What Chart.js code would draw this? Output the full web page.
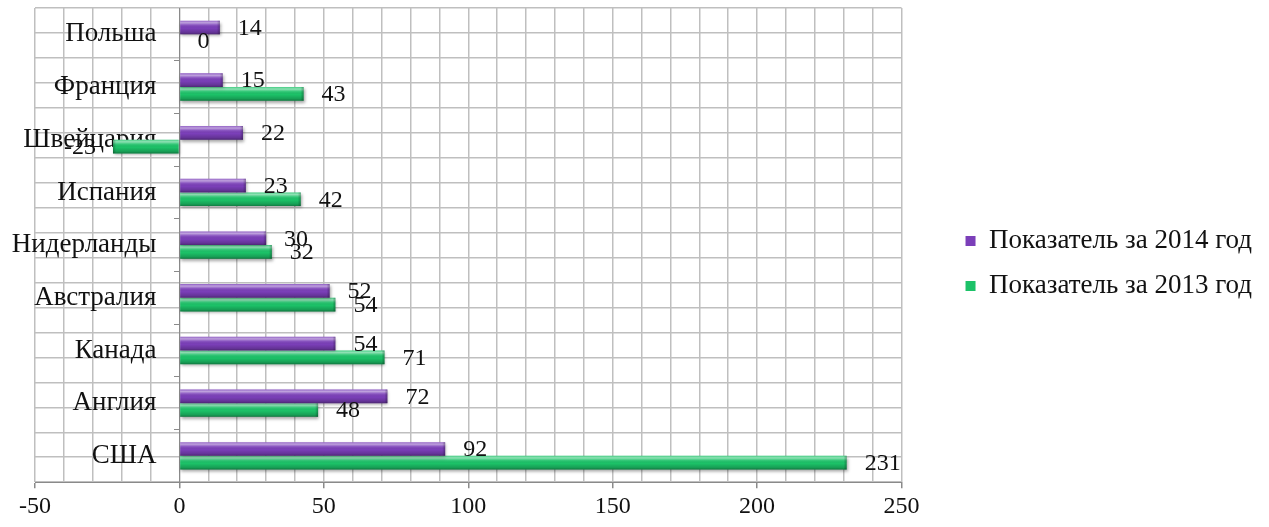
<!DOCTYPE html>
<html>
<head>
<meta charset="utf-8">
<script src="https://cdn.jsdelivr.net/npm/chart.js@4.4.1/dist/chart.umd.min.js"></script>
<style>
  html, body { margin: 0; padding: 0; background: #fff; }
  #wrap { width: 1269px; height: 527px; position: relative; }
</style>
</head>
<body>
<div id="wrap"><canvas id="chart"></canvas></div>
<script>
// Countries, top to bottom
const categories = ['Польша', 'Франция', 'Швейцария', 'Испания', 'Нидерланды', 'Австралия', 'Канада', 'Англия', 'США'];
// Indicator values per year
const values2014 = [14, 15, 22, 23, 30, 52, 54, 72, 92];
const values2013 = [0, 43, -23, 42, 32, 54, 71, 48, 231];
const seriesNames = ['Показатель за 2014 год', 'Показатель за 2013 год'];
// Value axis range and labelled step
const axisMin = -50;
const axisMax = 250;
const majorStep = 50;
const minorStep = 10;

const FONT = "'Liberation Serif', 'Times New Roman', serif";
const GRID = '#bfbfbf';
const AXIS = '#8a8a8a';
const TEXT = '#111111';

// Shading for the tubular bar look: light top edge, dark lower edge
const glossBars = {
  id: 'glossBars',
  beforeDatasetDraw(chart) {
    const ctx = chart.ctx;
    ctx.save();
    ctx.shadowColor = 'rgba(0,0,0,0.35)';
    ctx.shadowBlur = 3;
    ctx.shadowOffsetX = 1;
    ctx.shadowOffsetY = 2;
  },
  afterDatasetDraw(chart) {
    chart.ctx.restore();
  },
  afterDatasetsDraw(chart) {
    const ctx = chart.ctx;
    chart.data.datasets.forEach((ds, di) => {
      const meta = chart.getDatasetMeta(di);
      meta.data.forEach((el) => {
        const p = el.getProps(['x', 'y', 'base', 'height'], true);
        const left = Math.min(p.x, p.base), right = Math.max(p.x, p.base);
        const w = right - left;
        if (w < 0.5) return;
        const top = p.y - p.height / 2;
        const g = ctx.createLinearGradient(0, top, 0, top + p.height);
        g.addColorStop(0, 'rgba(255,255,255,0.20)');
        g.addColorStop(0.15, 'rgba(255,255,255,0.50)');
        g.addColorStop(0.32, 'rgba(255,255,255,0.12)');
        g.addColorStop(0.55, 'rgba(0,0,0,0)');
        g.addColorStop(0.85, 'rgba(0,0,0,0.18)');
        g.addColorStop(1, 'rgba(0,0,0,0.38)');
        ctx.save();
        ctx.fillStyle = g;
        ctx.fillRect(left, top, w, p.height);
        // darker rim at the bar end
        const positive = p.x >= p.base;
        const endX = positive ? right - 3 : left;
        const eg = ctx.createLinearGradient(endX, 0, endX + 3, 0);
        eg.addColorStop(0, positive ? 'rgba(0,0,0,0)' : 'rgba(0,0,0,0.28)');
        eg.addColorStop(1, positive ? 'rgba(0,0,0,0.28)' : 'rgba(0,0,0,0)');
        ctx.fillStyle = eg;
        ctx.fillRect(endX, top, 3, p.height);
        ctx.restore();
      });
    });
  }
};

// Value labels beside each bar end
const valueLabels = {
  id: 'valueLabels',
  afterDatasetsDraw(chart) {
    const ctx = chart.ctx;
    ctx.save();
    ctx.font = '24px ' + FONT;
    ctx.fillStyle = TEXT;
    ctx.textBaseline = 'middle';
    chart.data.datasets.forEach((ds, di) => {
      const meta = chart.getDatasetMeta(di);
      meta.data.forEach((el, i) => {
        const v = ds.data[i];
        const p = el.getProps(['x', 'y'], true);
        if (v < 0) {
          ctx.textAlign = 'right';
          ctx.fillText(String(v), p.x - 17, p.y + 1);
        } else {
          ctx.textAlign = 'left';
          ctx.fillText(String(v), p.x + 18, p.y + 1);
        }
      });
    });
    ctx.restore();
  }
};

// Move the legend block right, leaving the plot width unchanged
const legendShift = {
  id: 'legendShift',
  afterLayout(chart) {
    const lg = chart.legend;
    if (!lg) return;
    const dx = 46, dy = -3;
    lg.left += dx; lg.right += dx;
    lg.top += dy; lg.bottom += dy;
  }
};

// Keep a gap between the country names and the zero line
const categoryLabelGap = {
  id: 'categoryLabelGap',
  beforeDraw(chart) {
    const items = chart.scales.y.getLabelItems();
    if (items._gapApplied) return;
    items.forEach((it) => { it.options.translation[0] -= 23; });
    items._gapApplied = true;
  }
};

new Chart(document.getElementById('chart'), {
  type: 'bar',
  data: {
    labels: categories,
    datasets: [
      {
        label: seriesNames[0],
        data: values2014,
        backgroundColor: '#7b3fb9',
        borderWidth: 0
      },
      {
        label: seriesNames[1],
        data: values2013,
        backgroundColor: '#1cc268',
        borderWidth: 0
      }
    ]
  },
  options: {
    indexAxis: 'y',
    responsive: true,
    maintainAspectRatio: false,
    animation: false,
    devicePixelRatio: 1,
    categoryPercentage: 0.52,
    barPercentage: 1.0,
    layout: { padding: { left: 35, top: 8, right: 53, bottom: 2 } },
    plugins: {
      tooltip: { enabled: false },
      legend: {
        position: 'right',
        align: 'center',
        maxWidth: 600,
        labels: {
          font: { family: FONT, size: 27 },
          color: TEXT,
          boxWidth: 10,
          boxHeight: 10,
          padding: 18
        }
      }
    },
    scales: {
      x: {
        type: 'linear',
        min: axisMin,
        max: axisMax,
        ticks: {
          stepSize: minorStep,
          autoSkip: false,
          maxRotation: 0,
          padding: 4,
          color: TEXT,
          font: { family: FONT, size: 24 },
          callback: (v) => (v % majorStep === 0 ? String(v) : '')
        },
        grid: {
          color: GRID,
          lineWidth: 1.5,
          tickLength: 6,
          tickColor: (c) => (c.tick && c.tick.value % majorStep === 0 ? AXIS : 'rgba(0,0,0,0)')
        },
        border: { color: AXIS, width: 1 }
      },
      y: {
        type: 'category',
        position: { x: 0 },
        z: 1,
        afterFit(scale) {
          scale.paddingTop = 0;
          scale.paddingBottom = 0;
        },
        grid: {
          drawOnChartArea: false,
          drawTicks: true,
          tickLength: 5,
          offset: true,
          color: AXIS
        },
        border: { color: AXIS, width: 1 },
        ticks: {
          padding: 18,
          color: TEXT,
          font: { family: FONT, size: 27 }
        }
      },
      yGrid: {
        type: 'linear',
        position: 'left',
        min: 0,
        max: categories.length * 2,
        ticks: { display: false, stepSize: 1 },
        grid: { color: GRID, lineWidth: 1.5, drawTicks: false },
        border: { display: false }
      }
    }
  },
  plugins: [glossBars, valueLabels, legendShift, categoryLabelGap]
});
</script>
</body>
</html>
